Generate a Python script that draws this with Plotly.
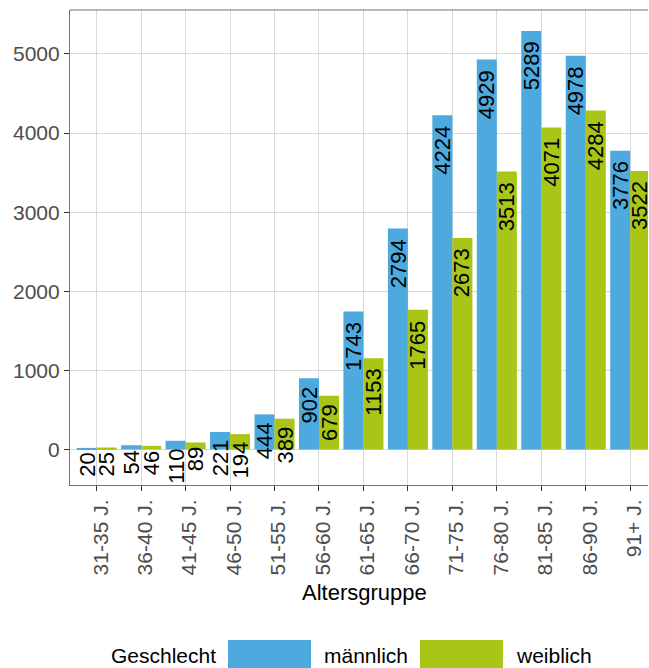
import plotly.graph_objects as go

categories = ["31-35 J.", "36-40 J.", "41-45 J.", "46-50 J.", "51-55 J.", "56-60 J.",
              "61-65 J.", "66-70 J.", "71-75 J.", "76-80 J.", "81-85 J.", "86-90 J.", "91+ J."]
maennlich = [20, 54, 110, 221, 444, 902, 1743, 2794, 4224, 4929, 5289, 4978, 3776]
weiblich = [25, 46, 89, 194, 389, 679, 1153, 1765, 2673, 3513, 4071, 4284, 3522]
series_names = ["männlich", "weiblich"]
legend_title = "Geschlecht"
x_title = "Altersgruppe"
y_ticks = [0, 1000, 2000, 3000, 4000, 5000]

BLUE = "#4DAADF"
GREEN = "#A9C515"
FONT = "Liberation Sans, Arial, sans-serif"
W, H = 649, 668
L, R, T, B = 70, 1, 10, 183

fig = go.Figure()
fig.add_bar(x=categories, y=maennlich, name=series_names[0], marker_color=BLUE,
            marker_line_width=0, showlegend=False)
fig.add_bar(x=categories, y=weiblich, name=series_names[1], marker_color=GREEN,
            marker_line_width=0, showlegend=False)

# value labels, rotated, anchored just below the top of each bar
for i in range(len(categories)):
    for off, vals in ((-0.225, maennlich), (0.225, weiblich)):
        s = str(vals[i])
        fig.add_annotation(x=i + off, y=vals[i], xref="x", yref="y", text=s,
                           textangle=-90, showarrow=False, xanchor="center", yanchor="top",
                           yshift=-(2.6 * len(s)) + 1, borderpad=0,
                           font=dict(family=FONT, size=22, color="#000000"))

pw = W - L - R
ph = H - T - B
def px_x(p):
    return (p - L) / pw
def px_y(p):
    return (H - B - p) / ph

# top border of panel
fig.add_shape(type="line", xref="paper", yref="paper", x0=0, x1=1, y0=1, y1=1,
              line=dict(color="#737373", width=1.2))

# x axis title
fig.add_annotation(x=px_x(364), y=px_y(592), xref="paper", yref="paper", text=x_title,
                   showarrow=False, xanchor="center", yanchor="middle",
                   font=dict(family=FONT, size=22, color="#000000"))

# legend drawn manually (large keys like the reference)
ly = 655
fig.add_annotation(x=px_x(109), y=px_y(ly), xref="paper", yref="paper", text=legend_title,
                   showarrow=False, xanchor="left", yanchor="middle",
                   font=dict(family=FONT, size=21, color="#000000"))
for key_x0, text_x, name, col in ((228, 322, series_names[0], BLUE), (420, 514, series_names[1], GREEN)):
    fig.add_shape(type="rect", xref="paper", yref="paper", x0=px_x(key_x0), x1=px_x(key_x0 + 83),
                  y0=px_y(670), y1=px_y(640), fillcolor=col, line_width=0)
    fig.add_annotation(x=px_x(text_x), y=px_y(ly), xref="paper", yref="paper", text=name,
                       showarrow=False, xanchor="left", yanchor="middle",
                       font=dict(family=FONT, size=21, color="#000000"))

fig.update_layout(
    width=W, height=H,
    margin=dict(l=L, r=R, t=T, b=B, pad=0),
    paper_bgcolor="white", plot_bgcolor="white",
    barmode="group", bargap=0.1, bargroupgap=0,
    font=dict(family=FONT),
    showlegend=False,
)
fig.update_xaxes(
    type="category", range=[-0.6, 12.4],
    showgrid=True, gridcolor="#D9D9D9", gridwidth=1.2,
    showline=True, linecolor="#737373", linewidth=1.2,
    ticks="outside", ticklen=5, tickcolor="#333333", tickwidth=1.2,
    tickangle=-90, ticklabelshift=4,
    tickfont=dict(family=FONT, size=21, color="#4D4D4D"),
    zeroline=False,
)
fig.update_yaxes(
    range=[-449, 5556], tickmode="array", tickvals=y_ticks, ticktext=[str(v) for v in y_ticks],
    showgrid=True, gridcolor="#D9D9D9", gridwidth=1.2,
    showline=True, linecolor="#737373", linewidth=1.2,
    ticks="outside", ticklen=5, tickcolor="#333333", tickwidth=1.2,
    tickfont=dict(family=FONT, size=21, color="#4D4D4D"),
    zeroline=False,
)

fig.write_html("out.html", config={"displayModeBar": False},
               post_script="document.body.style.margin='0';document.body.style.overflow='hidden';")
